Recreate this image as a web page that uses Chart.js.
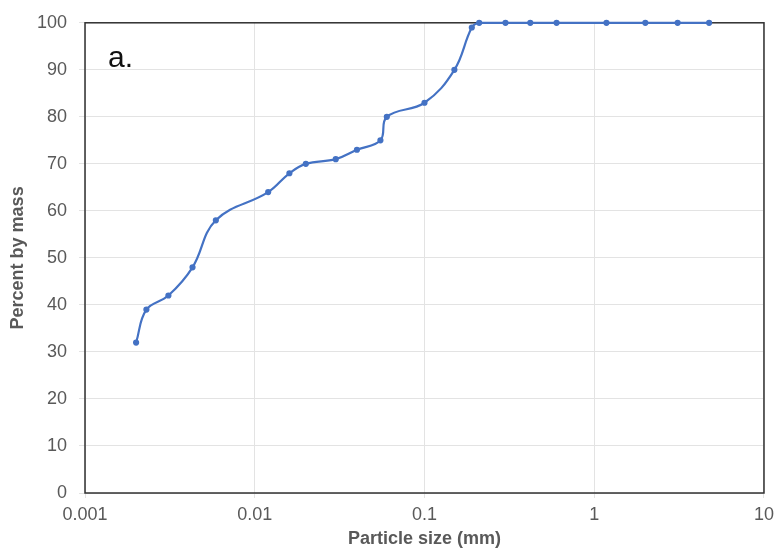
<!DOCTYPE html>
<html>
<head>
<meta charset="utf-8">
<script src="https://cdn.jsdelivr.net/npm/chart.js@4/dist/chart.umd.min.js"></script>
<style>
  html, body { margin: 0; background: #fff; }
  #wrap { width: 780px; height: 551px; }
</style>
</head>
<body>
<div id="wrap"><canvas id="chart"></canvas></div>
<script>
'use strict';

// particle size (mm) and cumulative percent passing
const SIZES   = [0.002, 0.0023, 0.0031, 0.0043, 0.0059, 0.012, 0.016, 0.02, 0.03, 0.04, 0.055, 0.06, 0.1, 0.15, 0.19, 0.21, 0.3, 0.42, 0.6, 1.18, 2, 3.1, 4.75];
const PERCENT = [32, 39, 42, 48, 58, 64, 68, 70, 71, 73, 75, 80, 83, 90, 99, 100, 100, 100, 100, 100, 100, 100, 100];
const X_TICKS = [0.001, 0.01, 0.1, 1, 10];
const PANEL   = 'a.';

const FONT      = '"Liberation Sans", Arial, sans-serif';
const TEXT_GREY = '#595959';
const GRID_GREY = '#e3e3e3';
const LINE_BLUE = '#4472c4';

// outline of the plot area + panel letter
const frame = {
    id: 'frame',
    beforeDatasetsDraw(chart) {
        const { ctx, chartArea: a } = chart;
        ctx.save();
        ctx.strokeStyle = '#303030';
        ctx.lineWidth = 1.5;
        ctx.strokeRect(a.left, a.top, a.right - a.left, a.bottom - a.top);
        ctx.fillStyle = '#111';
        ctx.font = `30px ${FONT}`;
        ctx.textBaseline = 'alphabetic';
        ctx.fillText(PANEL, a.left + 23, a.top + 44);
        ctx.restore();
    }
};

new Chart(document.getElementById('chart'), {
    type: 'scatter',
    data: {
        datasets: [{
            data: SIZES.map((x, i) => ({ x, y: PERCENT[i] })),
            showLine: true,
            borderColor: LINE_BLUE,
            backgroundColor: LINE_BLUE,
            borderWidth: 2.2,
            pointRadius: 2,
            pointHoverRadius: 2,
            tension: 0.4,
            clip: 4,
        }]
    },
    options: {
        responsive: true,
        maintainAspectRatio: false,
        animation: false,
        layout: { padding: { top: 21, right: 13, left: 0, bottom: 0 } },
        plugins: { legend: { display: false }, tooltip: { enabled: false } },
        scales: {
            x: {
                type: 'logarithmic',
                min: 0.001,
                max: 10,
                afterBuildTicks: s => { s.ticks = X_TICKS.map(v => ({ value: v })); },
                afterFit: s => { s.height = 58; },
                ticks: {
                    color: TEXT_GREY,
                    font: { family: FONT, size: 18 },
                    padding: 6,
                    maxRotation: 0,
                    callback: v => String(v),
                },
                grid: { color: GRID_GREY, tickColor: GRID_GREY, tickLength: 5 },
                border: { display: false },
                title: {
                    display: true,
                    text: 'Particle size (mm)',
                    color: TEXT_GREY,
                    font: { family: FONT, size: 18, weight: 'bold' },
                    padding: { top: 1, bottom: 1 },
                },
            },
            y: {
                min: 0,
                max: 100,
                afterFit: s => { s.width = 85; },
                ticks: {
                    stepSize: 10,
                    color: TEXT_GREY,
                    font: { family: FONT, size: 18 },
                    padding: 12,
                },
                grid: { color: GRID_GREY, tickColor: GRID_GREY, tickLength: 6 },
                border: { display: false },
                title: {
                    display: true,
                    text: 'Percent by mass',
                    color: TEXT_GREY,
                    font: { family: FONT, size: 18, weight: 'bold' },
                    padding: { top: 7, bottom: 7 },
                },
            }
        }
    },
    plugins: [frame]
});
</script>
</body>
</html>
